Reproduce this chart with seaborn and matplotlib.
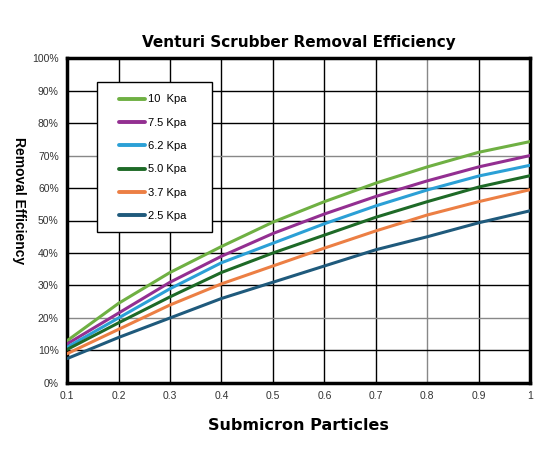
import pandas as pd
import numpy as np
import matplotlib
matplotlib.use("Agg")
import matplotlib.pyplot as plt
from matplotlib.patches import Rectangle
import seaborn as sns

# -------------------
# Data
# -------------------
particles = [0.1, 0.2, 0.3, 0.4, 0.5, 0.6, 0.7, 0.8, 0.9, 1.0]
eff_10 = [13.0, 24.5, 34.0, 42.0, 49.5, 55.8, 61.5, 66.5, 71.0, 74.3]
eff_75 = [12.0, 21.5, 31.0, 39.0, 46.0, 52.0, 57.4, 62.2, 66.5, 70.0]
eff_62 = [11.0, 20.0, 29.0, 37.0, 43.0, 49.0, 54.5, 59.4, 63.7, 67.0]
eff_50 = [10.3, 18.5, 26.5, 34.0, 40.0, 45.5, 51.0, 55.8, 60.3, 63.8]
eff_37 = [9.0, 16.5, 24.0, 30.5, 36.0, 41.5, 46.8, 51.7, 55.8, 59.5]
eff_25 = [7.5, 14.0, 20.0, 26.0, 31.0, 36.0, 41.0, 45.0, 49.3, 53.0]
labels = ["10  Kpa", "7.5 Kpa", "6.2 Kpa", "5.0 Kpa", "3.7 Kpa", "2.5 Kpa"]
colors = ["#6fb043", "#932f91", "#2ba0d6", "#1e6a27", "#ec7f44", "#1f5a7c"]

series = [eff_10, eff_75, eff_62, eff_50, eff_37, eff_25]
df = pd.DataFrame({
    "x": particles * len(series),
    "y": [v / 100 for s in series for v in s],
    "pressure": [lab for lab in labels for _ in particles],
})

# -------------------
# Plot
# -------------------
sns.set_style("white")
plt.rcParams["font.family"] = ["Liberation Sans", "DejaVu Sans"]
plt.rcParams["text.color"] = "black"
plt.rcParams["axes.labelcolor"] = "black"

fig = plt.figure(figsize=(5.5, 4.5), dpi=100)
ax = fig.add_axes([0.122, 0.149, 0.842, 0.722])

x_ticks = [0.1, 0.2, 0.3, 0.4, 0.5, 0.6, 0.7, 0.8, 0.9, 1.0]
y_ticks = [i / 10 for i in range(11)]

# grid (some lines lighter, as in the reference)
for xv in x_ticks[1:-1]:
    ax.axvline(xv, color="#888888" if xv == 0.8 else "black", lw=1.0, zorder=0)
for yv in y_ticks[1:-1]:
    ax.axhline(yv, color="#888888" if round(yv, 1) in (0.2, 0.7) else "black", lw=1.0, zorder=0)

sns.lineplot(data=df, x="x", y="y", hue="pressure", hue_order=labels,
             palette=colors, lw=2.2, ax=ax, zorder=3)

ax.set_xlim(0.1, 1.0)
ax.set_ylim(0, 1.0)
ax.set_xticks(x_ticks)
ax.set_xticklabels([f"{v:g}" for v in x_ticks])
ax.set_yticks(y_ticks)
ax.set_yticklabels([f"{int(round(v*100))}%" for v in y_ticks])
ax.tick_params(axis="both", length=0, labelsize=7.5, labelcolor="#333333", pad=6)

for side in ["left", "bottom", "right", "top"]:
    ax.spines[side].set_visible(True)
    ax.spines[side].set_color("black")
    ax.spines[side].set_linewidth(2.5)

ax.set_title("Venturi Scrubber Removal Efficiency", fontsize=11, fontweight="bold",
             family="DejaVu Sans", pad=8)
ax.set_xlabel("Submicron Particles", fontsize=11.5, fontweight="bold",
              family="DejaVu Sans", labelpad=12)
ax.set_ylabel("Removal Efficiency", fontsize=10, fontweight="bold",
              rotation=270, labelpad=20)
ax.yaxis.set_label_coords(-0.118, 0.56)

# legend box drawn as a plain rectangle, entries without frame
ax.add_patch(Rectangle((0.065, 0.465), 0.248, 0.461, transform=ax.transAxes,
                       facecolor="white", edgecolor="black", lw=1.0, zorder=4))
leg = ax.legend(loc="upper left", bbox_to_anchor=(0.112, 0.888), frameon=False,
                fontsize=8, handlelength=2.3, labelspacing=1.2,
                borderpad=0, handletextpad=0.35, borderaxespad=0)
leg.set_zorder(5)
for h in leg.get_lines():
    h.set_linewidth(2.8)

fig.savefig("out.png", dpi=100)
